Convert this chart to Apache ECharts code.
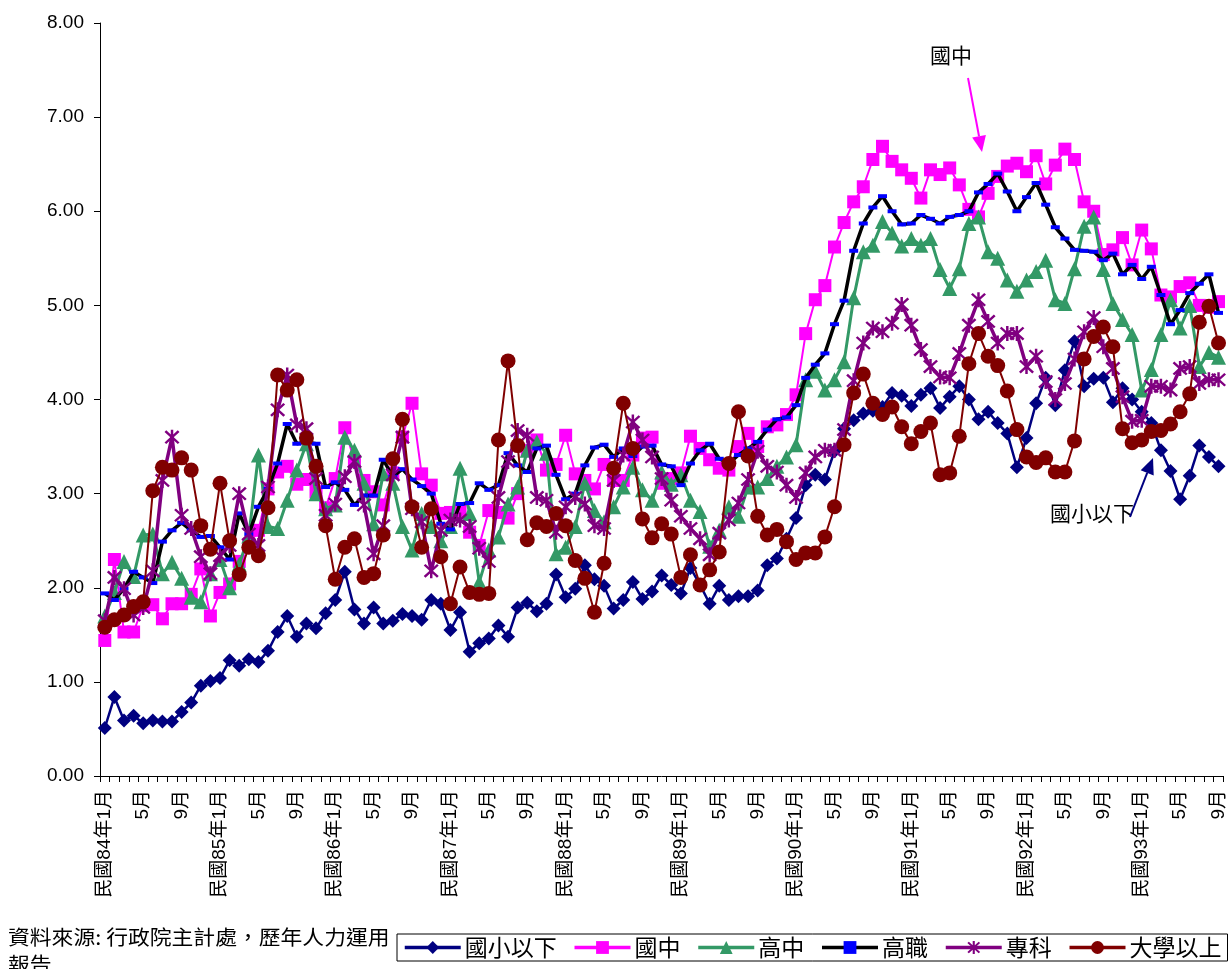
<!DOCTYPE html>
<html><head><meta charset="utf-8">
<script src="https://cdn.jsdelivr.net/npm/echarts@6/dist/echarts.min.js"></script>
<style>html,body{margin:0;padding:0;background:#fff}#c{width:1228px;height:969px}</style>
</head><body><div id="c"></div>
<script>
// ---- categories ----
const years = [84,85,86,87,88,89,90,91,92,93];
const monthNames = ['1月','2月','3月','4月','5月','6月','7月','8月','9月','10月','11月','12月'];
const lastYearMonths = 9;
const categories = [];
years.forEach(y => monthNames.forEach((m, k) => {
  if (y === 93 && k >= lastYearMonths) return;
  categories.push(k === 0 ? '民國' + y + '年' + m : m);
}));

// ---- series values (失業率 %) ----
const elementary = [0.51,0.84,0.59,0.64,0.56,0.59,0.58,0.58,0.68,0.78,0.96,1.01,
1.04,1.23,1.17,1.24,1.21,1.33,1.53,1.70,1.48,1.62,1.57,1.73,
1.87,2.17,1.77,1.62,1.79,1.62,1.65,1.72,1.70,1.66,1.87,1.83,
1.55,1.74,1.32,1.41,1.46,1.60,1.48,1.79,1.84,1.75,1.83,2.14,
1.90,1.99,2.24,2.09,2.02,1.78,1.87,2.06,1.88,1.96,2.13,2.03,
1.94,2.21,2.03,1.83,2.02,1.87,1.91,1.91,1.97,2.24,2.31,2.52,
2.74,3.09,3.20,3.15,3.45,3.69,3.78,3.85,3.88,3.92,4.07,4.04,
3.93,4.05,4.12,3.91,4.03,4.14,4.00,3.79,3.87,3.75,3.64,3.28,
3.59,3.96,4.23,3.94,4.31,4.62,4.14,4.22,4.23,3.97,4.12,4.00,
3.87,3.75,3.46,3.24,2.94,3.19,3.51,3.39,3.29];

const juniorHigh = [1.44,2.30,1.53,1.53,1.81,1.82,1.67,1.83,1.83,1.93,2.20,1.70,
1.95,2.04,2.28,2.45,2.61,3.05,3.23,3.29,3.10,3.15,3.02,2.85,
3.16,3.70,3.34,3.14,3.02,2.88,3.22,3.60,3.96,3.21,3.09,2.79,
2.80,2.82,2.59,2.45,2.82,2.80,2.74,3.00,3.46,3.57,3.25,3.31,
3.62,3.21,3.14,3.05,3.31,3.14,3.14,3.41,3.59,3.60,3.11,3.16,
3.22,3.61,3.48,3.36,3.27,3.25,3.50,3.64,3.50,3.71,3.73,3.84,
4.05,4.70,5.06,5.21,5.62,5.88,6.10,6.26,6.55,6.69,6.53,6.44,
6.35,6.14,6.44,6.39,6.46,6.28,6.02,5.94,6.19,6.37,6.48,6.51,
6.42,6.59,6.29,6.49,6.66,6.55,6.10,6.00,5.54,5.59,5.72,5.43,
5.80,5.60,5.11,5.09,5.20,5.24,5.00,4.98,5.04];

const seniorHigh = [1.70,1.95,2.28,2.12,2.56,2.57,2.15,2.27,2.10,1.90,1.85,2.15,
2.30,2.00,2.25,2.55,3.41,2.65,2.63,2.93,3.25,3.53,3.00,2.84,
2.88,3.60,3.46,3.11,2.68,3.21,3.11,2.65,2.40,2.79,2.65,2.50,
2.65,3.27,2.79,2.06,2.40,2.54,2.89,3.07,3.46,3.55,3.43,2.36,
2.43,2.65,3.11,2.82,2.70,2.86,3.07,3.28,3.04,2.93,3.23,3.10,
3.20,2.93,2.81,2.44,2.61,2.86,2.76,3.07,3.07,3.16,3.29,3.39,
3.52,4.21,4.30,4.10,4.21,4.40,5.08,5.57,5.64,5.89,5.77,5.63,
5.71,5.64,5.71,5.38,5.18,5.39,5.87,5.94,5.57,5.50,5.27,5.15,
5.27,5.36,5.48,5.06,5.02,5.39,5.84,5.94,5.38,5.02,4.85,4.69,
4.10,4.32,4.69,5.06,4.76,5.00,4.35,4.50,4.45];

const vocational = [1.94,1.87,1.99,2.17,2.11,2.05,2.49,2.61,2.69,2.61,2.54,2.55,
2.43,2.30,2.79,2.57,2.86,3.05,3.32,3.74,3.53,3.55,3.53,3.07,
3.12,3.04,2.88,2.98,2.98,3.36,3.18,3.26,3.15,3.08,3.00,2.68,
2.62,2.89,2.90,3.11,3.04,3.09,3.43,3.30,3.23,3.48,3.51,3.20,
2.94,3.00,3.30,3.49,3.52,3.39,3.48,3.40,3.50,3.51,3.31,3.29,
3.09,3.32,3.46,3.53,3.37,3.32,3.41,3.48,3.55,3.68,3.79,3.81,
3.94,4.23,4.37,4.49,4.80,5.05,5.58,5.87,6.04,6.16,6.00,5.86,
5.87,5.96,5.92,5.87,5.94,5.96,6.00,6.20,6.29,6.40,6.21,6.00,
6.15,6.30,6.07,5.83,5.71,5.59,5.58,5.57,5.48,5.55,5.33,5.43,
5.28,5.41,5.11,4.80,4.95,5.13,5.23,5.33,4.92];

const college = [1.65,2.11,1.99,1.71,1.79,2.18,3.14,3.60,2.77,2.63,2.33,2.15,
2.34,2.45,3.00,2.57,2.45,3.07,3.89,4.26,3.73,3.69,3.16,2.77,
2.89,3.18,3.34,2.88,2.36,2.66,3.20,3.60,2.84,2.70,2.18,2.61,
2.72,2.72,2.65,2.42,2.28,2.96,3.34,3.67,3.62,2.96,2.93,2.59,
2.86,2.96,2.89,2.66,2.63,3.14,3.41,3.76,3.57,3.39,3.16,2.93,
2.76,2.63,2.52,2.35,2.58,2.72,2.90,3.15,3.45,3.29,3.23,3.09,
2.96,3.22,3.39,3.46,3.46,3.68,4.20,4.60,4.76,4.72,4.81,5.01,
4.79,4.53,4.35,4.24,4.23,4.49,4.79,5.06,4.83,4.60,4.70,4.70,
4.35,4.46,4.19,4.00,4.17,4.43,4.72,4.87,4.56,4.33,4.03,3.77,
3.78,4.14,4.14,4.10,4.33,4.35,4.17,4.21,4.21];

const university = [1.58,1.66,1.71,1.80,1.85,3.03,3.28,3.25,3.38,3.25,2.66,2.41,
3.11,2.50,2.14,2.43,2.34,2.85,4.26,4.10,4.21,3.59,3.29,2.66,
2.09,2.43,2.52,2.11,2.15,2.56,3.37,3.79,2.86,2.43,2.84,2.33,
1.83,2.22,1.95,1.93,1.94,3.57,4.41,3.51,2.51,2.69,2.65,2.79,
2.66,2.29,2.10,1.74,2.26,3.27,3.96,3.48,2.73,2.53,2.68,2.57,
2.11,2.35,2.03,2.19,2.38,3.32,3.87,3.40,2.76,2.56,2.62,2.49,
2.30,2.37,2.37,2.54,2.86,3.52,4.07,4.27,3.96,3.84,3.92,3.71,
3.53,3.66,3.75,3.20,3.22,3.61,4.38,4.70,4.46,4.36,4.09,3.68,
3.39,3.33,3.38,3.23,3.23,3.56,4.43,4.67,4.77,4.56,3.69,3.54,
3.57,3.66,3.67,3.74,3.87,4.06,4.82,4.99,4.60];

const seriesNames = ['國小以下','國中','高中','高職','專科','大學以上'];
const yMin = 0, yMax = 8, yStep = 1;

const FONT = "'Liberation Sans','Noto Sans CJK TC',sans-serif";
const CJK = "'Noto Sans CJK TC',sans-serif";
const STAR = 'path://M8.5,0L11.5,0L11.5,20L8.5,20Z M0.9,3.0L3.0,0.9L19.1,17.0L17.0,19.1Z M17.0,0.9L19.1,3.0L3.0,19.1L0.9,17.0Z';

function mk(name, data, color, lineColor, width, symbol, size, z) {
  return {
    name, type: 'line', data, z,
    symbol, symbolSize: size, showAllSymbol: true,
    lineStyle: { color: lineColor, width },
    itemStyle: { color, borderWidth: 0 },
    emphasis: { disabled: true },
    animation: false
  };
}

function arrow(x1, y1, x2, y2, color) {
  const dx = x2 - x1, dy = y2 - y1, L = Math.hypot(dx, dy);
  const ux = dx / L, uy = dy / L, nx = -uy, ny = ux;
  const hl = 16, hw = 7;
  const bx = x2 - hl * ux, by = y2 - hl * uy;
  return [
    { type: 'line', shape: { x1, y1, x2: bx, y2: by }, style: { stroke: color, lineWidth: 2 } },
    { type: 'polygon', shape: { points: [[x2, y2], [bx + hw * nx, by + hw * ny], [bx - hw * nx, by - hw * ny]] }, style: { fill: color } }
  ];
}

const chart = echarts.init(document.getElementById('c'), null, { renderer: 'canvas' });
chart.setOption({
  animation: false,
  backgroundColor: '#fff',
  grid: { left: 100, right: 0, top: 23, bottom: 193, containLabel: false },
  xAxis: {
    type: 'category', data: categories, boundaryGap: true,
    axisLine: { lineStyle: { color: '#000', width: 1 } },
    axisTick: { show: true, interval: 0, length: 6, lineStyle: { color: '#000' } },
    axisLabel: { interval: 3, rotate: 90, margin: 14, color: '#000', fontSize: 19, fontFamily: FONT },
    splitLine: { show: false }
  },
  yAxis: {
    type: 'value', min: yMin, max: yMax, interval: yStep,
    axisLine: { show: true, lineStyle: { color: '#000', width: 1 } },
    axisTick: { show: true, length: 6, lineStyle: { color: '#000' } },
    axisLabel: { color: '#000', fontSize: 19, fontFamily: FONT, margin: 16, formatter: v => v.toFixed(2) },
    splitLine: { show: false }
  },
  legend: {
    data: seriesNames,
    left: 397, top: 934,
    orient: 'horizontal',
    borderColor: '#000', borderWidth: 1, padding: [2, 6, 2, 6],
    itemWidth: 56, itemHeight: 16, itemGap: 16,
    lineStyle: { width: 3.5 },
    textStyle: { fontSize: 23, color: '#000', fontFamily: CJK, padding: [0, 0, 0, -1] }
  },
  series: [
    mk(seriesNames[0], elementary, '#000080', '#000080', 2.5, 'diamond', 14, 2),
    mk(seriesNames[1], juniorHigh, '#FF00FF', '#FF00FF', 2, 'rect', 13, 3),
    mk(seriesNames[2], seniorHigh, '#339966', '#339966', 3, 'triangle', 15, 4),
    mk(seriesNames[3], vocational, '#0000FF', '#000000', 3.5, 'rect', [9, 4], 5),
    mk(seriesNames[4], college, '#800080', '#800080', 3.5, STAR, 15, 6),
    mk(seriesNames[5], university, '#800000', '#800000', 2, 'circle', 15, 7)
  ],
  graphic: [
    { type: 'text', x: 8, y: 924, scaleX: 1.09, style: { text: '資料來源: 行政院主計處，歷年人力運用\n報告', fontSize: 20, lineHeight: 27, fill: '#000', fontFamily: CJK } },
    { type: 'text', left: 930, top: 45, style: { text: '國中', fontSize: 21, fill: '#000', fontFamily: CJK } },
    ...arrow(968, 78, 982, 152, '#FF00FF'),
    { type: 'text', left: 1050, top: 503, style: { text: '國小以下', fontSize: 21, fill: '#000', fontFamily: CJK } },
    ...arrow(1130, 517, 1153, 458, '#000080')
  ]
});
</script>
</body></html>
